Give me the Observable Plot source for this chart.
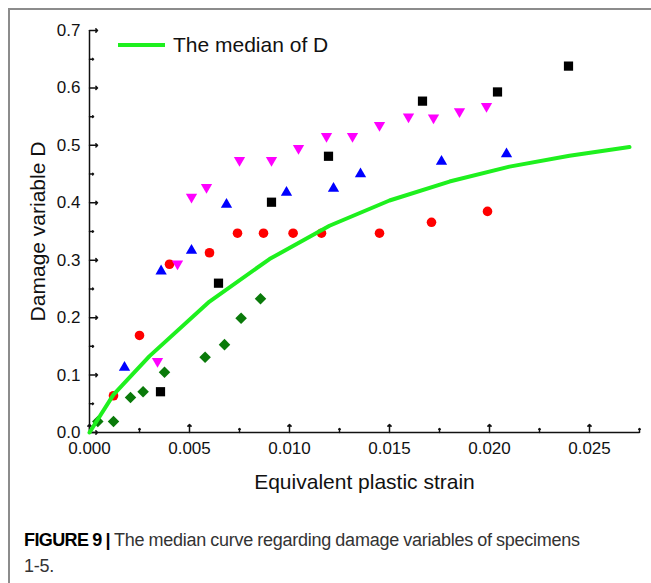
<!DOCTYPE html>
<html>
<head>
<meta charset="utf-8">
<script src="https://cdn.jsdelivr.net/npm/d3@7"></script>
<script src="https://cdn.jsdelivr.net/npm/@observablehq/plot@0.6"></script>
<style>
  html, body { margin: 0; padding: 0; background: #fff; }
  body { width: 651px; height: 583px; position: relative; overflow: hidden; font-family: "Liberation Sans", Arial, sans-serif; }
  #frame { position: absolute; left: 8px; top: 8px; width: 700px; height: 700px; border-top: 2px solid #8c8c8c; border-left: 2px solid #8c8c8c; }
  #chart { position: absolute; left: 0; top: 0; }
  #legend { position: absolute; left: 118px; top: 33px; display: flex; align-items: center; font-size: 21px; color: #111; }
  #legend .swatch { width: 47px; height: 4px; background: #1ef01e; margin-right: 8px; }
  #caption { position: absolute; left: 24px; top: 527px; width: 620px; font-family: "Liberation Sans", Arial, sans-serif; font-size: 18px; letter-spacing: -0.25px; word-spacing: -0.5px; line-height: 26px; color: #333; }
  #caption b { color: #000; letter-spacing: -0.6px; }
</style>
</head>
<body>
<div id="frame"></div>
<div id="chart"></div>
<div id="legend"><span class="swatch"></span><span>The median of D</span></div>
<div id="caption"><b>FIGURE 9 |</b> The median curve regarding damage variables of specimens<br>1-5.</div>
<script>
// Specimen data (equivalent plastic strain, damage variable D)
const squareX = [0.00355, 0.00645, 0.0091, 0.01195, 0.01665, 0.0204, 0.02395];
const squareY = [0.071, 0.26, 0.401, 0.481, 0.577, 0.593, 0.638];

const downTriX = [0.0034, 0.0044, 0.0051, 0.00585, 0.0075, 0.0091, 0.01045, 0.01185, 0.01315, 0.0145, 0.01595, 0.0172, 0.0185, 0.01985];
const downTriY = [0.124, 0.294, 0.41, 0.427, 0.474, 0.474, 0.495, 0.516, 0.516, 0.535, 0.55, 0.548, 0.559, 0.568];

const upTriX = [0.00175, 0.00358, 0.0051, 0.00685, 0.00985, 0.0122, 0.01355, 0.0176, 0.02085];
const upTriY = [0.113, 0.281, 0.317, 0.397, 0.418, 0.425, 0.45, 0.472, 0.485];

const circleX = [0.0012, 0.0025, 0.0040, 0.0060, 0.0074, 0.0087, 0.01018, 0.0116, 0.0145, 0.0171, 0.0199];
const circleY = [0.064, 0.169, 0.293, 0.313, 0.347, 0.347, 0.347, 0.347, 0.347, 0.366, 0.385];

const diamondX = [0.000415, 0.0012, 0.00205, 0.00268, 0.00375, 0.00578, 0.00675, 0.00758, 0.00855];
const diamondY = [0.019, 0.019, 0.061, 0.071, 0.105, 0.131, 0.153, 0.199, 0.233];

// Median curve of D
const medianX = [0, 0.0012, 0.003, 0.006, 0.009, 0.012, 0.015, 0.018, 0.021, 0.024, 0.027];
const medianY = [0, 0.066, 0.133, 0.228, 0.302, 0.36, 0.404, 0.437, 0.463, 0.482, 0.497];

// Axis ticks
const xMajor = [0, 0.005, 0.01, 0.015, 0.02, 0.025];
const xMinor = [0.0025, 0.0075, 0.0125, 0.0175, 0.0225, 0.0275];
const yMajor = [0, 0.1, 0.2, 0.3, 0.4, 0.5, 0.6, 0.7];
const yMinor = [0.05, 0.15, 0.25, 0.35, 0.45, 0.55, 0.65];

const zip = (xs, ys) => xs.map((x, i) => ({x, y: ys[i]}));

const tickFont = 17;
const plot = Plot.plot({
  width: 651,
  height: 500,
  marginLeft: 89,
  marginRight: 12,
  marginTop: 30,
  marginBottom: 68,
  style: { fontFamily: "'Liberation Sans', Arial, sans-serif", background: "transparent", color: "#111" },
  x: { domain: [0, 0.0275], axis: null },
  y: { domain: [0, 0.7], axis: null },
  marks: [
    // tick labels
    Plot.axisX(xMajor, { tickSize: 0, tickPadding: 9, tickFormat: d3.format(".3f"), fontSize: tickFont, label: null, fill: "#111" }),
    Plot.axisY(yMajor, { tickSize: 0, tickPadding: 9, tickFormat: d3.format(".1f"), fontSize: tickFont, label: null, fill: "#111" }),
    // inward ticks
    Plot.vector(xMajor, { x: d => d, y: 0, length: 8, rotate: 0, anchor: "start", stroke: "#111", strokeWidth: 1.5 }),
    Plot.vector(xMinor, { x: d => d, y: 0, length: 4, rotate: 0, anchor: "start", stroke: "#111", strokeWidth: 1.5 }),
    Plot.vector(yMajor, { x: 0, y: d => d, length: 8, rotate: 90, anchor: "start", stroke: "#111", strokeWidth: 1.5 }),
    Plot.vector(yMinor, { x: 0, y: d => d, length: 4, rotate: 90, anchor: "start", stroke: "#111", strokeWidth: 1.5 }),
    // axis lines
    Plot.ruleY([0], { stroke: "#111", strokeWidth: 1.5 }),
    Plot.ruleX([0], { stroke: "#111", strokeWidth: 1.5 }),
    // axis titles
    Plot.text(["Equivalent plastic strain"], { frameAnchor: "bottom", dy: 50, lineAnchor: "middle", textAnchor: "middle", fontSize: 21, fill: "#111" }),
    Plot.text(["Damage variable D"], { frameAnchor: "left", dx: -51, rotate: -90, textAnchor: "middle", lineAnchor: "middle", fontSize: 21, fill: "#111" }),
    // specimens
    Plot.dot(zip(diamondX, diamondY), { x: "x", y: "y", symbol: "diamond2", r: 5.2, fill: "#0a7a0a", stroke: "none" }),
    Plot.dot(zip(circleX, circleY), { x: "x", y: "y", symbol: "circle", r: 4.8, fill: "#ff0000", stroke: "none" }),
    Plot.dot(zip(upTriX, upTriY), { x: "x", y: "y", symbol: "triangle", r: 4.2, fill: "#0000ff", stroke: "none" }),
    Plot.dot(zip(downTriX, downTriY), { x: "x", y: "y", symbol: "triangle", rotate: 180, r: 4.2, fill: "#ff00ff", stroke: "none" }),
    Plot.dot(zip(squareX, squareY), { x: "x", y: "y", symbol: "square", r: 5.2, fill: "#000", stroke: "none" }),
    // median curve
    Plot.line(zip(medianX, medianY), { x: "x", y: "y", stroke: "#1ef01e", strokeWidth: 4, strokeLinejoin: "round" })
  ]
});
document.getElementById("chart").appendChild(plot);
</script>
</body>
</html>
